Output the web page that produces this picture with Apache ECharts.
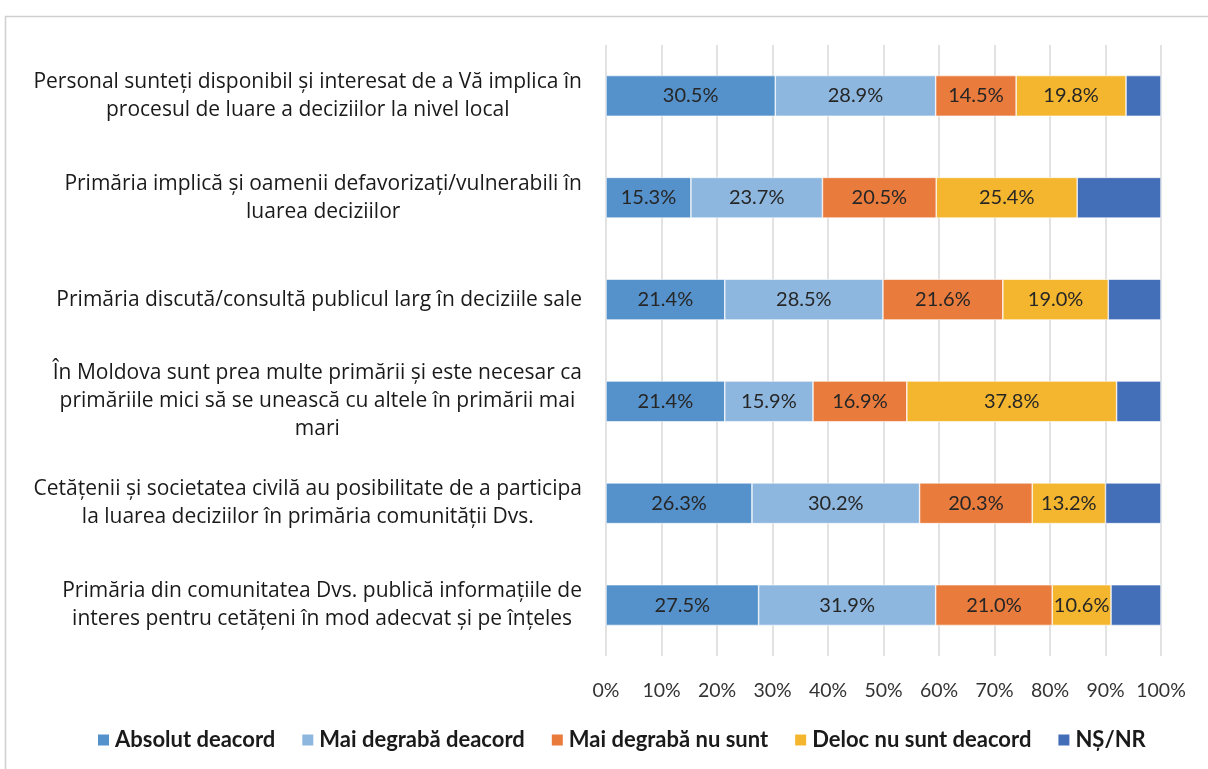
<!DOCTYPE html>
<html>
<head>
<meta charset="utf-8">
<script src="https://cdn.jsdelivr.net/npm/echarts@6/dist/echarts.min.js"></script>
<style>
  html, body { margin: 0; padding: 0; background: #fff; }
  #chart { width: 1208px; height: 769px; }
</style>
</head>
<body>
<div id="chart"></div>
<script>
// Survey statements (top to bottom), with their line breaks
const categories = [
  'Personal sunteți disponibil și interesat de a Vă implica în\nprocesul de luare a deciziilor la nivel local',
  'Primăria implică și oamenii defavorizați/vulnerabili în\nluarea deciziilor',
  'Primăria discută/consultă publicul larg în deciziile sale',
  'În Moldova sunt prea multe primării și este necesar ca\nprimăriile mici să se unească cu altele în primării mai\nmari',
  'Cetățenii și societatea civilă au posibilitate de a participa\nla luarea deciziilor în primăria comunității Dvs.',
  'Primăria din comunitatea Dvs. publică informațiile de\ninteres pentru cetățeni în mod adecvat și pe înțeles'
];

const seriesNames = ['Absolut deacord', 'Mai degrabă deacord', 'Mai degrabă nu sunt', 'Deloc nu sunt deacord', 'NȘ/NR'];

// Shares in percent, one value per statement
const absolutDeacord     = [30.5, 15.3, 21.4, 21.4, 26.3, 27.5];
const maiDegrabaDeacord  = [28.9, 23.7, 28.5, 15.9, 30.2, 31.9];
const maiDegrabaNuSunt   = [14.5, 20.5, 21.6, 16.9, 20.3, 21.0];
const delocNuSuntDeacord = [19.8, 25.4, 19.0, 37.8, 13.2, 10.6];
const nsNr               = [6.3, 15.1, 9.5, 8.0, 10.0, 9.0];

const axisTicks = [0, 10, 20, 30, 40, 50, 60, 70, 80, 90, 100];

const colors = ['#5591CA', '#8DB7DF', '#E97B3C', '#F4B62F', '#436EB8'];
const showLabels = [true, true, true, true, false];
const values = [absolutDeacord, maiDegrabaDeacord, maiDegrabaNuSunt, delocNuSuntDeacord, nsNr];

const FONT = 'Lato, "Open Sans", sans-serif';
const CAT_FONT = '"Open Sans", Lato, sans-serif';

const chart = echarts.init(document.getElementById('chart'), null, { renderer: 'canvas' });

chart.setOption({
  animation: false,
  backgroundColor: '#ffffff',
  color: colors,
  graphic: [{
    type: 'rect',
    left: 3, top: 14,
    shape: { width: 1300, height: 900 },
    style: { fill: 'none', stroke: '#D0D0D0', lineWidth: 1.5 },
    silent: true, z: -10
  }],
  grid: { left: 606, right: 47, top: 45, bottom: 113, containLabel: false },
  legend: {
    bottom: 13,
    left: 91,
    itemWidth: 13, itemHeight: 13,
    itemGap: 25,
    icon: 'rect',
    textStyle: { fontFamily: FONT, fontWeight: 'bold', fontSize: 22, color: '#1a1a1a' },
    data: seriesNames
  },
  xAxis: {
    type: 'value',
    min: 0, max: 100, interval: 10,
    axisLine: { show: false },
    axisTick: { show: false },
    splitLine: { show: true, lineStyle: { color: '#D9D9D9', width: 1.5 } },
    axisLabel: {
      margin: 25,
      fontFamily: FONT, fontSize: 19.5, color: '#333333',
      formatter: v => axisTicks.includes(v) ? v + '%' : ''
    }
  },
  yAxis: {
    type: 'category',
    inverse: true,
    data: categories,
    axisLine: { show: false },
    axisTick: { show: false },
    axisLabel: {
      margin: 24,
      align: 'right',
      formatter: v => v.split('\n').map(l => '{c|' + l + '}').join('\n'),
      rich: {
        c: { align: 'center', fontFamily: CAT_FONT, fontSize: 21, color: '#1a1a1a', lineHeight: 28 }
      }
    }
  },
  series: seriesNames.map((name, i) => ({
    name,
    type: 'bar',
    stack: 'total',
    barWidth: '40%',
    data: values[i],
    itemStyle: { color: colors[i], borderColor: '#ffffff', borderWidth: 0.6 },
    label: {
      show: showLabels[i],
      position: 'inside',
      fontFamily: FONT, fontSize: 20, color: '#262626',
      formatter: p => p.value.toFixed(1) + '%'
    }
  }))
});
</script>
</body>
</html>
